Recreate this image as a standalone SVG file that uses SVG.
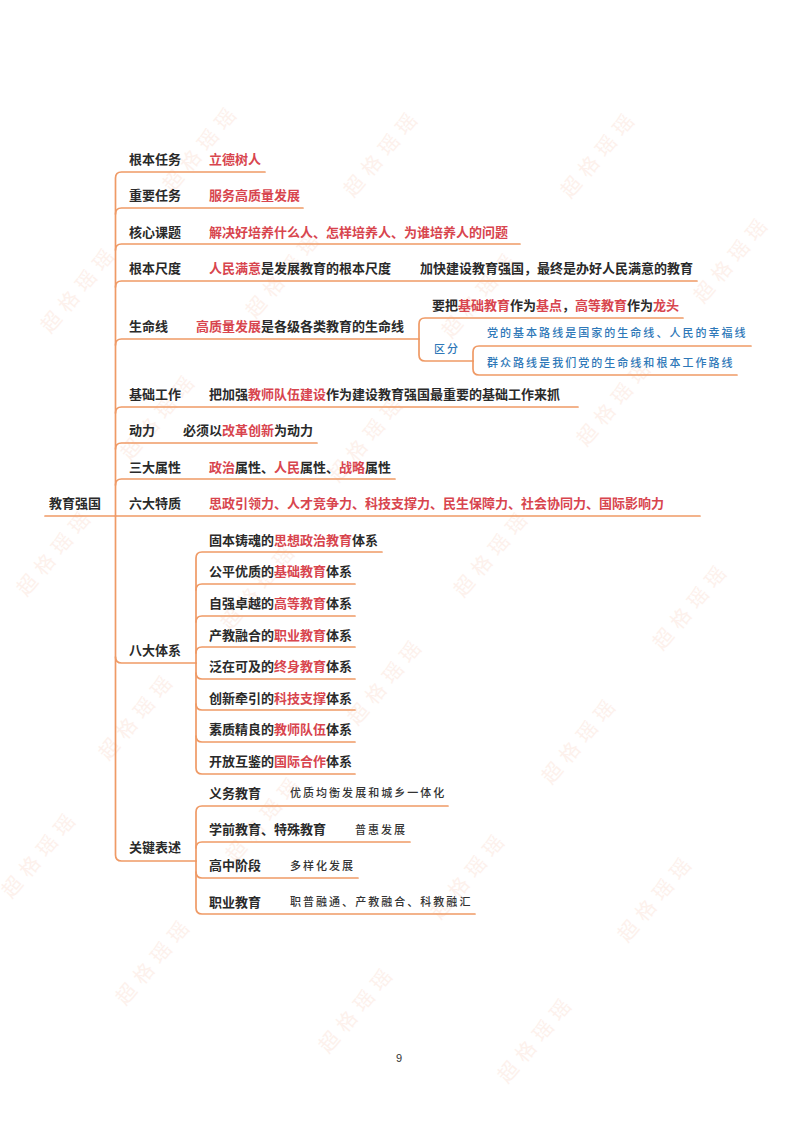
<svg xmlns="http://www.w3.org/2000/svg" width="800" height="1132" viewBox="0 0 800 1132">
<style>
text{font-family:"Noto Sans CJK SC","Noto Sans",sans-serif;font-size:13px;font-weight:700;fill:#2a2a2a}
.r{fill:#d8454e}
.b{font-size:11px;letter-spacing:2.03px;fill:#2e78b8;font-weight:500}
.h{font-size:11px;letter-spacing:2.03px;fill:#333;font-weight:500}
.w{font-size:20px;letter-spacing:7px;fill:#fdf1ec;font-weight:400;text-anchor:middle}
.p{font-family:"Liberation Sans",sans-serif;font-size:11px;font-weight:400;fill:#333}
#connectors path{fill:none;stroke:#ef9a66;stroke-width:1.7;stroke-linecap:round}
</style>
<g id="watermarks">
<text class="w" transform="translate(207 152) rotate(-50)">超格瑶瑶</text>
<text class="w" transform="translate(388 157) rotate(-50)">超格瑶瑶</text>
<text class="w" transform="translate(605 158) rotate(-50)">超格瑶瑶</text>
<text class="w" transform="translate(85 293) rotate(-50)">超格瑶瑶</text>
<text class="w" transform="translate(290 278) rotate(-50)">超格瑶瑶</text>
<text class="w" transform="translate(486 298) rotate(-50)">超格瑶瑶</text>
<text class="w" transform="translate(738 263) rotate(-50)">超格瑶瑶</text>
<text class="w" transform="translate(165 420) rotate(-50)">超格瑶瑶</text>
<text class="w" transform="translate(373 442) rotate(-50)">超格瑶瑶</text>
<text class="w" transform="translate(621 406) rotate(-50)">超格瑶瑶</text>
<text class="w" transform="translate(61 556) rotate(-50)">超格瑶瑶</text>
<text class="w" transform="translate(265 590) rotate(-50)">超格瑶瑶</text>
<text class="w" transform="translate(498 557) rotate(-50)">超格瑶瑶</text>
<text class="w" transform="translate(697 610) rotate(-50)">超格瑶瑶</text>
<text class="w" transform="translate(143 720) rotate(-50)">超格瑶瑶</text>
<text class="w" transform="translate(392 685) rotate(-50)">超格瑶瑶</text>
<text class="w" transform="translate(586 744) rotate(-50)">超格瑶瑶</text>
<text class="w" transform="translate(46 858) rotate(-50)">超格瑶瑶</text>
<text class="w" transform="translate(270 822) rotate(-50)">超格瑶瑶</text>
<text class="w" transform="translate(475 879) rotate(-50)">超格瑶瑶</text>
<text class="w" transform="translate(662 902) rotate(-50)">超格瑶瑶</text>
<text class="w" transform="translate(160 965) rotate(-50)">超格瑶瑶</text>
<text class="w" transform="translate(363 1013) rotate(-50)">超格瑶瑶</text>
<text class="w" transform="translate(542 1043) rotate(-50)">超格瑶瑶</text>
</g>
<g id="connectors">
<path d="M45 516H700"/>
<path d="M115.500 516V178Q115.500 172 121.500 172H265"/>
<path d="M115.500 214Q115.500 208 121.500 208H303"/>
<path d="M115.500 250Q115.500 244 121.500 244H520"/>
<path d="M115.500 287Q115.500 281 121.500 281H697"/>
<path d="M115.500 345Q115.500 339 121.500 339H419"/>
<path d="M115.500 413Q115.500 407 121.500 407H578"/>
<path d="M115.500 449Q115.500 443 121.500 443H317"/>
<path d="M115.500 485Q115.500 479 121.500 479H395"/>
<path d="M115.500 516V855Q115.500 861 121.500 861H196"/>
<path d="M115.500 657Q115.500 663 121.500 663H196"/>
<path d="M196 663V558Q196 552 202 552H382"/>
<path d="M196 590Q196 584 202 584H355"/>
<path d="M196 622Q196 616 202 616H355"/>
<path d="M196 653Q196 647 202 647H355"/>
<path d="M196 663V768Q196 774 202 774H355"/>
<path d="M196 673Q196 679 202 679H355"/>
<path d="M196 704Q196 710 202 710H355"/>
<path d="M196 736Q196 742 202 742H355"/>
<path d="M196 861V812Q196 806 202 806H448"/>
<path d="M196 848Q196 842 202 842H410"/>
<path d="M196 861V908Q196 914 202 914H475"/>
<path d="M196 872Q196 878 202 878H358"/>
<path d="M419 339V324Q419 318 425 318H683"/>
<path d="M419 339V355Q419 361 425 361H473"/>
<path d="M473 361V352Q473 346 479 346H751"/>
<path d="M473 361V369Q473 375 479 375H737"/>
</g>
<g id="root"><text x="49" y="507.500">教育强国</text></g>
<g id="n1"><text x="129" y="163.500">根本任务</text><text x="209" y="163.500" class="r">立德树人</text></g>
<g id="n2"><text x="129" y="199.500">重要任务</text><text x="209" y="199.500" class="r">服务高质量发展</text></g>
<g id="n3"><text x="129" y="236.500">核心课题</text><text x="209" y="236.500" class="r">解决好培养什么人、怎样培养人、为谁培养人的问题</text></g>
<g id="n4"><text x="129" y="272.500">根本尺度</text><text x="209" y="272.500"><tspan class="r">人民满意</tspan>是发展教育的根本尺度</text><text x="420" y="272.500">加快建设教育强国，最终是办好人民满意的教育</text></g>
<g id="n5"><text x="129" y="330.500">生命线</text><text x="196" y="330.500"><tspan class="r">高质量发展</tspan>是各级各类教育的生命线</text>
<text x="432" y="309.500">要把<tspan class="r">基础教育</tspan>作为<tspan class="r">基点</tspan>，<tspan class="r">高等教育</tspan>作为<tspan class="r">龙头</tspan></text>
<text x="434" y="353" class="b">区分</text>
<text x="487" y="337" class="b">党的基本路线是国家的生命线、人民的幸福线</text>
<text x="487" y="367" class="b">群众路线是我们党的生命线和根本工作路线</text></g>
<g id="n6"><text x="129" y="398.500">基础工作</text><text x="209" y="398.500">把加强<tspan class="r">教师队伍建设</tspan>作为建设教育强国最重要的基础工作来抓</text></g>
<g id="n7"><text x="129" y="434.500">动力</text><text x="183" y="434.500">必须以<tspan class="r">改革创新</tspan>为动力</text></g>
<g id="n8"><text x="129" y="471.500">三大属性</text><text x="209" y="471.500"><tspan class="r">政治</tspan>属性、<tspan class="r">人民</tspan>属性、<tspan class="r">战略</tspan>属性</text></g>
<g id="n9"><text x="129" y="507.500">六大特质</text><text x="209" y="507.500" class="r">思政引领力、人才竞争力、科技支撑力、民生保障力、社会协同力、国际影响力</text></g>
<g id="n10"><text x="129" y="654.500">八大体系</text>
<text x="209" y="544.500">固本铸魂的<tspan class="r">思想政治教育</tspan>体系</text>
<text x="209" y="575.500">公平优质的<tspan class="r">基础教育</tspan>体系</text>
<text x="209" y="607.500">自强卓越的<tspan class="r">高等教育</tspan>体系</text>
<text x="209" y="639.500">产教融合的<tspan class="r">职业教育</tspan>体系</text>
<text x="209" y="670.500">泛在可及的<tspan class="r">终身教育</tspan>体系</text>
<text x="209" y="702.500">创新牵引的<tspan class="r">科技支撑</tspan>体系</text>
<text x="209" y="733.500">素质精良的<tspan class="r">教师队伍</tspan>体系</text>
<text x="209" y="765.500">开放互鉴的<tspan class="r">国际合作</tspan>体系</text></g>
<g id="n11"><text x="129" y="851.500">关键表述</text>
<text x="209" y="797.500">义务教育</text><text x="290" y="797" class="h">优质均衡发展和城乡一体化</text>
<text x="209" y="833.500">学前教育、特殊教育</text><text x="355" y="834" class="h">普惠发展</text>
<text x="209" y="869.500">高中阶段</text><text x="290" y="870" class="h">多样化发展</text>
<text x="209" y="906.500">职业教育</text><text x="290" y="906" class="h">职普融通、产教融合、科教融汇</text></g>
<g id="page"><text x="396" y="1062" class="p">9</text></g>
</svg>
